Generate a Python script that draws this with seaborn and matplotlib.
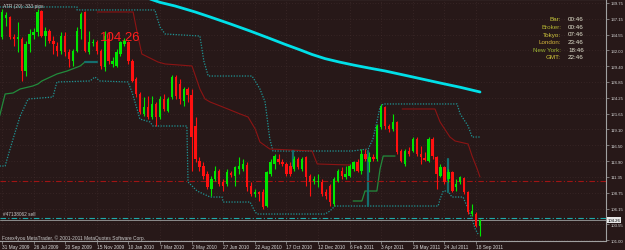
import numpy as np
import pandas as pd
import matplotlib
matplotlib.use("Agg")
import matplotlib.pyplot as plt
import seaborn as sns

# ---------------- data (EURJPY weekly) ----------------
opens = [134.19,137.30,137.46,134.19,133.86,133.86,128.63,133.05,134.52,135.01,
         138.44,134.35,135.17,133.54,132.72,131.90,134.35,131.74,130.27,131.90,
         135.50,138.28,131.74,133.21,133.37,131.90,129.29,133.86,129.78,129.45,
         131.41,133.05,133.37,130.27,127.32,124.87,121.60,122.75,121.11,123.24,
         121.11,124.05,122.09,124.38,127.65,126.51,123.73,125.69,124.71,119.64,
         113.92,113.10,111.79,109.34,110.97,112.28,110.48,110.16,111.95,111.46,
         112.61,112.61,113.26,109.83,108.52,108.85,108.85,106.56,111.79,113.43,
         114.24,113.75,113.43,113.10,112.61,114.24,112.61,114.57,111.46,110.65,
         110.48,110.48,108.85,109.83,106.88,110.65,112.28,111.30,111.46,112.61,
         113.75,112.28,115.06,113.75,114.57,114.24,119.48,122.75,119.64,119.15,
         120.29,115.55,113.43,115.55,115.55,117.51,115.06,114.41,113.92,117.51,
         114.57,111.46,112.94,110.97,112.12,109.67,110.48,111.14,108.85,105.25,
         105.25,103.29]
highs = [138.77,138.28,137.62,134.68,136.64,134.19,133.54,135.50,135.66,138.77,
         138.61,135.83,135.50,134.35,133.37,135.01,135.01,132.23,132.23,135.83,
         138.28,138.44,135.17,133.86,133.70,132.23,135.17,135.01,130.92,132.23,
         133.54,134.03,133.54,130.59,127.65,125.20,124.38,124.54,124.54,123.56,
         124.54,124.87,124.38,127.98,127.98,127.32,126.02,126.02,125.69,121.11,
         114.57,113.75,112.28,111.46,113.10,112.61,110.97,112.61,112.28,113.10,
         114.57,114.24,113.75,110.48,109.34,109.01,109.34,112.28,114.24,115.06,
         115.06,114.24,113.75,113.75,114.73,114.57,114.57,114.73,111.79,111.46,
         111.79,110.97,109.34,110.16,111.30,112.61,112.94,113.10,113.43,113.92,
         114.24,115.88,115.88,115.39,115.06,119.97,123.24,122.91,119.97,121.60,
         120.46,115.88,115.88,116.21,117.84,117.84,116.37,115.39,117.84,117.84,
         114.73,113.43,113.10,112.61,112.28,110.97,111.46,111.30,109.01,106.88,
         105.58,104.43]
lows = [133.86,135.99,133.86,132.72,131.74,127.00,127.81,131.74,133.86,134.35,
        134.19,132.72,133.21,131.41,131.08,131.41,131.08,129.29,129.45,131.74,
        133.86,131.74,131.41,132.72,131.41,128.96,128.63,129.78,129.29,129.29,
        131.08,132.72,129.78,126.83,124.38,121.60,121.27,120.78,120.78,119.64,
        120.78,122.09,121.93,124.05,124.05,123.24,122.91,123.56,112.28,113.75,
        112.28,110.97,109.34,108.19,110.65,109.83,109.01,109.83,111.30,109.83,
        111.79,112.28,109.01,108.19,108.03,107.38,106.07,106.40,111.46,112.61,
        113.43,113.10,111.46,111.46,112.28,112.61,112.28,109.83,108.19,110.16,
        109.67,108.19,107.70,106.56,106.56,110.48,110.97,110.97,111.30,112.28,
        112.12,111.79,113.92,112.12,113.92,113.92,119.15,119.15,118.66,118.82,
        115.06,113.75,113.10,114.73,115.39,114.73,113.43,113.92,113.75,114.24,
        109.34,111.30,110.16,110.48,108.85,109.01,110.16,108.52,105.25,104.92,
        103.13,101.65]
closes = [138.28,137.79,134.19,133.86,134.19,128.63,133.05,134.68,135.01,138.28,
          134.35,135.17,133.54,133.05,131.90,134.35,131.74,130.59,131.90,135.17,
          137.95,131.90,133.37,133.37,131.90,129.45,134.35,130.27,130.27,131.74,
          133.37,133.54,130.27,127.00,124.87,121.93,122.75,121.11,123.24,121.11,
          124.05,122.42,124.05,127.65,124.54,124.05,125.69,124.71,117.84,114.24,
          112.94,111.46,109.67,110.97,112.28,110.16,109.83,112.12,111.63,112.94,
          113.10,113.43,109.67,108.52,108.85,108.52,106.40,112.12,113.75,114.73,
          113.75,113.43,111.79,111.79,114.24,112.94,114.24,111.30,110.48,110.97,
          110.65,108.52,108.19,107.21,110.97,112.28,111.46,111.79,113.10,113.75,
          112.28,115.06,114.24,114.57,114.24,119.64,122.75,119.64,119.15,120.29,
          115.39,113.92,115.55,115.06,117.51,115.06,114.57,114.08,117.51,114.73,
          111.79,112.94,110.48,112.12,109.01,110.16,111.30,108.85,105.58,105.74,
          103.29,104.26]

date_labels = ["31 May 2009", "26 Jul 2009", "20 Sep 2009", "15 Nov 2009",
               "10 Jan 2010", "7 Mar 2010", "2 May 2010", "27 Jun 2010",
               "22 Aug 2010", "17 Oct 2010", "12 Dec 2010", "6 Feb 2011",
               "3 Apr 2011", "29 May 2011", "24 Jul 2011", "18 Sep 2011"]
price_ticks = [139.75, 137.15, 134.55, 132.00, 129.40, 126.85, 124.25, 121.65,
               119.10, 116.50, 113.90, 111.35, 108.75, 106.15, 103.55, 101.00]

# moving average (cyan)
ma_x = [34.9, 37.5, 40.0, 43.8, 48.9, 52.7, 57.7, 62.8, 67.8, 71.6, 75.4, 78.5, 81.8,
        85.5, 89.4, 93.2, 97.0, 103.3, 110.9, 116.0, 121.0]
ma_y = [140.89, 140.40, 139.85, 139.26, 138.28, 137.46, 136.35, 135.17, 133.95, 133.00,
        132.10, 131.33, 130.65, 130.08, 129.55, 129.08, 128.63, 127.75, 126.67, 125.97, 125.20]
# channel upper / lower (teal dotted)
up_x = [-0.6, 19.0, 19.0, 38.7, 40.0, 41.3, 50.1, 51.1, 52.2, 63.3, 65.3, 66.6, 67.8, 68.6,
        88.6, 92.7, 93.9, 94.9, 95.7, 96.5, 115.2, 116.0, 118.0, 119.0, 121.0]
up_y = [139.10, 139.10, 138.61, 138.61, 135.83, 134.68, 134.35, 130.27, 127.81, 127.81,
        125.69, 123.56, 117.51, 115.55, 115.55, 115.88, 117.51, 120.29, 122.75, 123.24,
        123.24, 121.60, 119.64, 117.84, 117.84]
lo_x = [-0.6, 0.8, 1.3, 2.8, 4.6, 5.8, 6.6, 12.9, 13.9, 22.3, 23.5, 24.8, 31.9, 32.9, 34.2,
        34.9, 37.5, 38.2, 46.8, 47.1, 49.4, 52.7, 55.7, 56.0, 62.8, 64.1, 64.6, 81.8, 83.0,
        84.3, 110.4, 110.9, 111.7, 112.9, 113.9, 116.7, 117.7, 119.0, 119.8, 120.5]
lo_y = [113.10, 113.10, 114.24, 117.51, 121.27, 122.91, 124.05, 124.38, 126.83, 127.00,
        127.65, 127.00, 126.83, 125.20, 122.42, 120.78, 120.29, 119.64, 119.64, 110.48,
        109.01, 108.03, 108.03, 107.21, 107.21, 105.58, 105.25, 105.25, 105.74, 106.56,
        106.56, 107.70, 109.01, 109.01, 108.03, 108.03, 106.56, 104.43, 102.80, 101.98]
# trailing stop: down (dark red) and up (green)
red1_x = [24.1, 33.2, 34.2, 35.4, 39.5, 41.3, 48.1, 50.1, 51.4, 52.7, 55.9, 60.3, 62.3,
          64.1, 65.3, 67.8, 78.5, 79.8, 88.1]
red1_y = [138.28, 138.28, 135.01, 131.41, 130.10, 129.78, 129.45, 125.69, 124.05, 123.56,
          122.75, 121.60, 121.11, 119.15, 117.02, 115.88, 115.55, 113.43, 113.26]
red2_x = [101.3, 109.6, 110.9, 113.4, 114.7, 118.0, 119.0, 120.3, 121.0]
red2_y = [122.42, 122.42, 120.29, 117.84, 117.19, 116.70, 114.73, 112.61, 111.30]
grn1_x = [-0.6, 0.8, 2.8, 4.6, 7.8, 9.1, 10.1, 13.9, 16.5, 19.8, 21.0]
grn1_y = [121.27, 124.87, 125.04, 125.69, 126.18, 126.51, 127.00, 128.14, 128.63, 129.45, 130.10]
grn2_x = [88.9, 91.1, 91.9, 94.9, 95.7, 96.5, 99.5]
grn2_y = [107.38, 107.38, 109.01, 109.01, 112.61, 114.73, 114.73]
# switch segments (thick teal)
sw_x0 = [21.0, 73.7, 92.7, 112.9]
sw_x1 = [24.1, 73.7, 92.7, 112.9]
sw_y0 = [130.10, 115.55, 115.55, 114.24]
sw_y1 = [130.10, 113.10, 106.56, 108.85]

stop_level = 110.65
order_level = 104.60
bid = 104.26
clock_names = ["Bar:", "Broker:", "Tokyo:", "London:", "New York:", "GMT:"]
clock_times = ["00:46", "00:46", "07:46", "23:46", "18:46", "22:46"]
clock_colors = ["#c8c83c", "#b4b432", "#d2c83c", "#d2b43c", "#9cb432", "#d2c83c"]

# ---------------- drawing ----------------
BG = "#271818"
sns.set_style("dark")
plt.rcParams["font.family"] = ["Liberation Sans", "DejaVu Sans"]

fig = plt.figure(figsize=(6.25, 2.51), dpi=100)
fig.patch.set_facecolor(BG)
ax = fig.add_axes([0, 9 / 251, 606 / 625, 242 / 251])
ax.set_facecolor(BG)

df = pd.DataFrame({"o": opens, "h": highs, "l": lows, "c": closes})
df["i"] = np.arange(len(df))
up = df["c"] >= df["o"]
col = np.where(up, "#00e600", "#ff1010")

ax.set_xlim(-0.5, 152.9)
ax.set_ylim(100.84, 140.40)

# grid (MT4 dotted)
for t in price_ticks:
    ax.axhline(t, color="#443030", lw=0.5, ls=(0, (1, 3)), zorder=0)
for k in range(len(date_labels)):
    ax.axvline(k * 8, color="#443030", lw=0.5, ls=(0, (1, 3)), zorder=0)

# indicators
sns.lineplot(x=ma_x, y=ma_y, ax=ax, color="#00e0e8", lw=2.0, estimator=None, sort=False, zorder=3)
sns.lineplot(x=up_x, y=up_y, ax=ax, color="#1e9696", lw=0.9, ls=(0, (1, 1.2)), estimator=None, sort=False, zorder=2)
sns.lineplot(x=lo_x, y=lo_y, ax=ax, color="#1e9696", lw=0.9, ls=(0, (1, 1.2)), estimator=None, sort=False, zorder=2)
sns.lineplot(x=red1_x, y=red1_y, ax=ax, color="#8c1414", lw=0.8, estimator=None, sort=False, zorder=2)
sns.lineplot(x=red2_x, y=red2_y, ax=ax, color="#8c1414", lw=0.8, estimator=None, sort=False, zorder=2)
sns.lineplot(x=grn1_x, y=grn1_y, ax=ax, color="#228b3c", lw=0.9, estimator=None, sort=False, zorder=2)
sns.lineplot(x=grn2_x, y=grn2_y, ax=ax, color="#228b3c", lw=0.9, estimator=None, sort=False, zorder=2)
for a, b, c_, d in zip(sw_x0, sw_x1, sw_y0, sw_y1):
    ax.plot([a, b], [c_, d], color="#146e6e", lw=1.6, zorder=2)

# horizontal levels
ax.axhline(stop_level, color="#a01414", lw=0.8, ls=(0, (5, 2, 1, 2)), zorder=2)
ax.axhline(order_level, color="#1eaaaa", lw=0.8, ls=(0, (5, 2, 1, 2)), zorder=2)
ax.axhline(bid, color="#8c8c8c", lw=0.7, zorder=2)

# candles
ax.vlines(df["i"], df["l"], df["h"], colors=col, lw=0.8, zorder=4)
body_lo = np.minimum(df["o"], df["c"])
body_h = np.maximum(np.abs(df["c"] - df["o"]), 0.12)
ax.bar(df["i"], body_h, bottom=body_lo, width=0.6, color=col, linewidth=0, zorder=5)

# axes styling
ax.spines["left"].set_visible(False)
for s in ["top", "right", "bottom"]:
    ax.spines[s].set_visible(True)
    ax.spines[s].set_color("#a0a0a0")
    ax.spines[s].set_linewidth(0.8)
ax.yaxis.tick_right()
ax.set_yticks(price_ticks)
ax.set_yticklabels([f"{v:.2f}" for v in price_ticks])
ax.tick_params(axis="y", colors="#a0a0a0", labelcolor="#d8d8d8", labelsize=3.1,
               length=2, width=0.5, pad=1, right=True, left=False)
ax.set_xticks([k * 8 for k in range(len(date_labels))])
ax.set_xticklabels(date_labels, ha="left")
ax.tick_params(axis="x", colors="#a0a0a0", labelcolor="#d8d8d8", labelsize=3.4,
               length=2, width=0.5, pad=0.5, bottom=True)
ax.set_xlabel("")
ax.set_ylabel("")
ax.grid(False)

# current price box
ax.text(1.002, bid, f"{bid:.2f}", transform=ax.get_yaxis_transform(), fontsize=3.1,
        color="black", va="center", ha="left",
        bbox=dict(boxstyle="square,pad=0.15", fc="#e8e8e8", ec="none"), clip_on=False, zorder=10)

# texts
ax.text(0.005, 0.985, "ATR (20): 333 pips", transform=ax.transAxes, fontsize=3.5,
        color="#c8c8c8", va="top", ha="left")
ax.text(0.165, 0.843, "104.26", transform=ax.transAxes, fontsize=9.5,
        color="#ff1e1e", va="center", ha="left", zorder=6)
ax.text(0.005, 1 - 215 / 242, "#47138062 sell", transform=ax.transAxes, fontsize=3.4,
        color="#c8c8c8", va="center", ha="left")
ax.text(0.003, 1 - 238 / 242, "Forex4you MetaTrader, \u00a9 2001-2011 MetaQuotes Software Corp.",
        transform=ax.transAxes, fontsize=3.5, color="#c8c8c8", va="center", ha="left")
for k, (nm, tm, cc) in enumerate(zip(clock_names, clock_times, clock_colors)):
    yy = 1 - (20 + 7.5 * k) / 242
    ax.text(561 / 606, yy, nm, transform=ax.transAxes, fontsize=4.5, color=cc,
            va="center", ha="right")
    ax.text(568 / 606, yy, tm, transform=ax.transAxes, fontsize=4.5, color="#e6e6d2",
            va="center", ha="left")

fig.savefig("out.png", dpi=100, facecolor=BG)
